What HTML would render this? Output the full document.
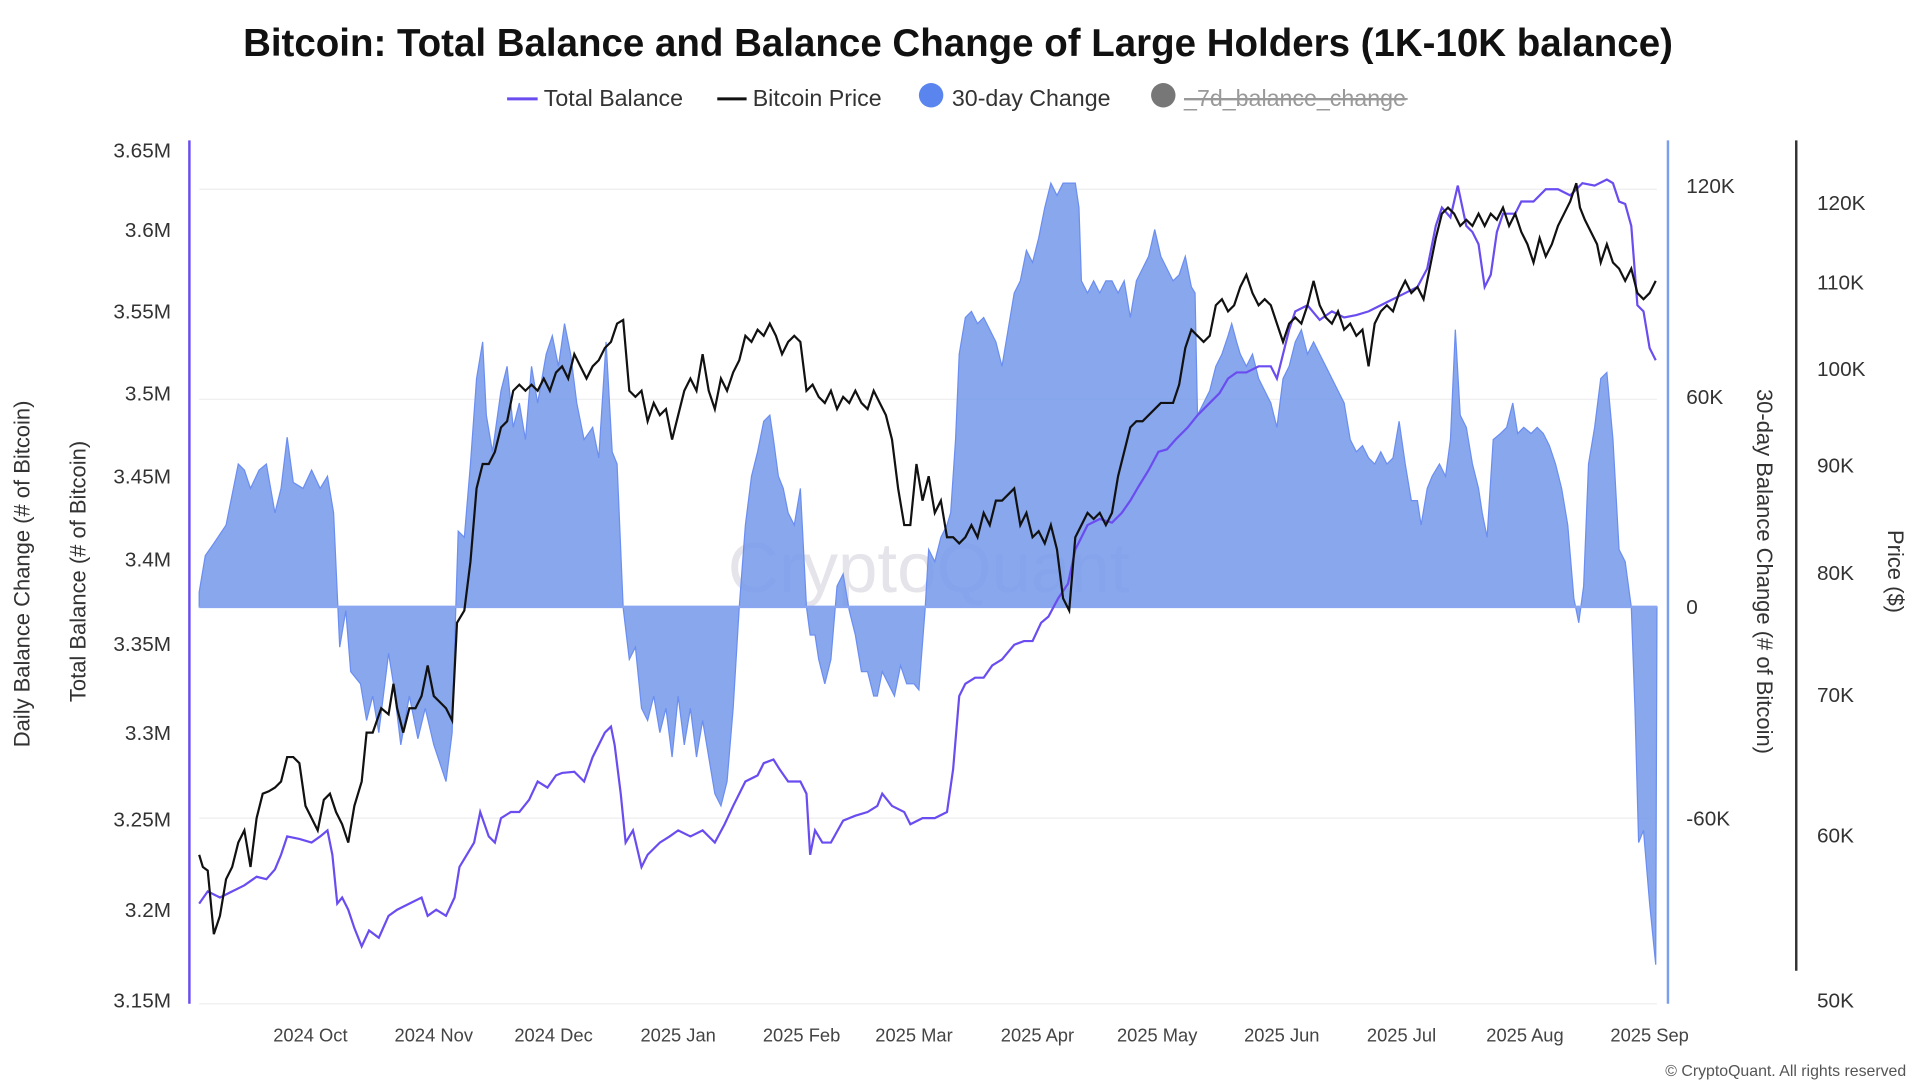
<!DOCTYPE html>
<html><head><meta charset="utf-8"><style>
html,body{margin:0;padding:0;background:#fff;}
svg{display:block;font-family:"Liberation Sans",sans-serif;}
</style></head><body>
<svg id="c" width="1916" height="1088" viewBox="0 0 1568 891" preserveAspectRatio="none" xmlns="http://www.w3.org/2000/svg">
<text x="784" y="46" text-anchor="middle" font-size="31.5" font-weight="bold" fill="#111">Bitcoin: Total Balance and Balance Change of Large Holders (1K-10K balance)</text>
<g font-size="19" fill="#333">
<line x1="415" y1="81" x2="440" y2="81" stroke="#6a4cf0" stroke-width="2.5"/><text x="445" y="87">Total Balance</text>
<line x1="587" y1="81" x2="611" y2="81" stroke="#111" stroke-width="2.5"/><text x="616" y="87">Bitcoin Price</text>
<circle cx="762" cy="78" r="10" fill="#5b85ee"/><text x="779" y="87">30-day Change</text>
<circle cx="952" cy="78" r="10" fill="#777"/><text x="969" y="87" fill="#999" text-decoration="line-through">_7d_balance_change</text>
<line x1="969" y1="81" x2="1152" y2="81" stroke="#999" stroke-width="1.5"/>
</g>
<g stroke="#eee" stroke-width="1">
<line x1="163" y1="155" x2="1356" y2="155"/><line x1="163" y1="327" x2="1356" y2="327"/>
<line x1="163" y1="670" x2="1356" y2="670"/><line x1="163" y1="822" x2="1356" y2="822"/>
</g>
<text x="760" y="485" text-anchor="middle" font-size="58" fill="#e4e4ea">CryptoQuant</text>
<path id="area" fill="rgb(120,155,235)" fill-opacity="0.88" stroke="#6b8ef0" stroke-width="1"/>
<line x1="163" y1="497" x2="1356" y2="497" stroke="#8aa6f0" stroke-width="2"/>
<path id="bal" fill="none" stroke="#6a4cf0" stroke-width="1.8"/>
<path id="px" fill="none" stroke="#111" stroke-width="1.8"/>
<line x1="155" y1="115" x2="155" y2="822" stroke="#6a4cf0" stroke-width="2"/>
<line x1="1365" y1="115" x2="1365" y2="822" stroke="#7c9ef0" stroke-width="2"/>
<line x1="1470" y1="115" x2="1470" y2="795" stroke="#333" stroke-width="2"/>
<g font-size="17" fill="#333" text-anchor="end">
<text x="140" y="129">3.65M</text><text x="140" y="194">3.6M</text><text x="140" y="261">3.55M</text><text x="140" y="328">3.5M</text><text x="140" y="396">3.45M</text><text x="140" y="464">3.4M</text><text x="140" y="533">3.35M</text><text x="140" y="606">3.3M</text><text x="140" y="677">3.25M</text><text x="140" y="751">3.2M</text><text x="140" y="825">3.15M</text>
</g>
<g font-size="17" fill="#333">
<text x="1380" y="158">120K</text><text x="1380" y="331">60K</text><text x="1380" y="503">0</text><text x="1380" y="676">-60K</text>
<text x="1487" y="172">120K</text><text x="1487" y="237">110K</text><text x="1487" y="308">100K</text><text x="1487" y="387">90K</text><text x="1487" y="475">80K</text><text x="1487" y="575">70K</text><text x="1487" y="690">60K</text><text x="1487" y="825">50K</text>
</g>
<g font-size="15" fill="#444" text-anchor="middle">
<text x="254" y="853">2024 Oct</text><text x="355" y="853">2024 Nov</text><text x="453" y="853">2024 Dec</text><text x="555" y="853">2025 Jan</text><text x="656" y="853">2025 Feb</text><text x="748" y="853">2025 Mar</text><text x="849" y="853">2025 Apr</text><text x="947" y="853">2025 May</text><text x="1049" y="853">2025 Jun</text><text x="1147" y="853">2025 Jul</text><text x="1248" y="853">2025 Aug</text><text x="1350" y="853">2025 Sep</text>
</g>
<g font-size="18" fill="#333" text-anchor="middle">
<text transform="translate(24,470) rotate(-90)">Daily Balance Change (# of Bitcoin)</text>
<text transform="translate(70,468) rotate(-90)">Total Balance (# of Bitcoin)</text>
<text transform="translate(1438,468) rotate(90)">30-day Balance Change (# of Bitcoin)</text>
<text transform="translate(1545,468) rotate(90)">Price ($)</text>
</g>
<text x="1560" y="881" text-anchor="end" font-size="13" fill="#555">© CryptoQuant. All rights reserved</text>
</svg>
<script>
function P(a){var s="";for(var i=0;i<a.length;i+=2)s+=(i?"L":"M")+a[i]+" "+a[i+1];return s;}
var A=[163,485,168,455,175,445,185,430,195,380,200,385,205,400,212,385,218,380,225,420,230,400,235,358,240,395,248,400,255,385,262,400,268,390,273,420,278,530,283,500,287,550,295,560,300,590,305,570,310,600,318,535,322,560,328,610,335,570,342,605,348,580,355,610,360,625,365,640,370,600,373,498,375,435,380,440,385,380,390,310,395,280,398,340,403,370,410,320,415,300,420,350,425,330,430,360,435,300,440,330,447,290,452,275,457,300,462,265,467,290,472,330,478,360,485,350,490,375,496,280,501,370,505,380,510,498,515,540,520,530,525,580,530,590,535,570,540,600,545,580,550,620,555,570,560,610,565,580,570,620,575,590,580,620,585,650,590,660,595,640,600,580,605,497,610,430,615,390,620,370,625,345,630,340,633,360,637,390,641,400,645,420,650,430,655,400,660,497,663,520,667,520,670,540,675,560,680,540,685,480,690,470,695,500,700,520,705,550,710,550,715,570,718,570,722,550,727,560,732,570,737,545,742,560,748,560,752,565,757,500,760,450,765,460,770,440,775,430,778,420,782,360,785,290,790,260,795,255,800,265,805,260,810,270,815,280,820,300,825,270,830,240,835,230,840,205,845,215,850,195,855,170,860,150,865,160,870,150,875,150,880,150,883,170,885,230,890,240,895,230,900,240,905,230,910,230,915,240,920,230,925,260,930,230,935,220,940,210,945,188,950,210,955,220,960,230,965,225,970,210,975,235,978,240,980,340,985,330,990,320,995,300,1000,290,1005,275,1008,265,1012,280,1015,290,1020,300,1025,290,1030,310,1035,320,1040,330,1045,350,1050,310,1055,300,1060,280,1065,270,1070,290,1075,280,1080,290,1085,300,1090,310,1095,320,1100,330,1105,360,1110,370,1115,365,1120,375,1125,380,1130,370,1135,380,1140,375,1145,345,1150,380,1155,410,1160,410,1163,430,1168,400,1172,390,1178,380,1183,390,1187,360,1191,270,1195,340,1200,350,1205,380,1210,400,1213,420,1217,440,1222,360,1228,355,1233,350,1238,330,1242,355,1247,350,1253,355,1258,350,1263,355,1268,365,1273,380,1278,400,1283,430,1288,490,1292,510,1296,480,1300,380,1305,350,1310,310,1315,305,1320,360,1325,450,1330,460,1335,497,1338,580,1341,690,1345,680,1350,740,1355,790,1356,497];
document.getElementById("area").setAttribute("d",P([163,497].concat(A))+"Z");
var B=[163,740,170,730,180,735,190,730,200,725,210,718,218,720,225,712,230,700,235,685,245,687,255,690,262,685,268,680,272,700,276,740,280,735,285,745,290,760,296,775,302,762,310,768,318,750,325,745,335,740,345,735,350,750,357,745,365,750,372,735,376,710,382,700,388,690,393,665,400,685,405,690,410,670,418,665,425,665,433,655,440,640,448,645,455,635,460,633,470,632,478,640,485,620,490,610,495,600,500,595,503,610,508,650,512,690,518,680,525,710,530,700,540,690,548,685,555,680,565,685,575,680,585,690,593,675,600,660,610,640,620,635,625,625,633,622,638,630,645,640,655,640,660,650,663,700,667,680,673,690,680,690,690,672,700,668,710,665,718,660,722,650,730,660,740,665,745,675,755,670,765,670,775,665,780,630,785,570,790,560,798,555,805,555,812,545,820,540,830,528,838,525,845,525,852,510,858,505,866,490,874,478,880,450,890,430,900,425,910,428,918,420,925,410,932,398,940,385,948,370,955,368,962,360,972,350,980,340,990,330,998,322,1005,310,1012,305,1020,305,1030,300,1040,300,1045,310,1050,290,1055,270,1060,255,1070,250,1080,262,1090,255,1100,260,1110,258,1120,255,1130,250,1140,245,1150,240,1160,235,1168,220,1175,185,1180,170,1187,178,1193,152,1200,185,1205,190,1210,200,1215,235,1220,225,1225,190,1230,175,1240,175,1245,165,1255,165,1265,155,1275,155,1285,160,1295,150,1305,152,1315,147,1320,150,1325,165,1330,167,1335,185,1340,250,1345,255,1350,285,1355,295];
document.getElementById("bal").setAttribute("d",P(B));
var C=[163,700,166,710,170,713,175,765,180,750,185,720,190,710,195,690,200,680,205,710,210,670,215,650,220,648,225,645,230,640,235,620,240,620,245,625,250,660,255,670,260,680,265,655,270,650,275,665,280,675,285,690,290,660,296,640,300,600,305,600,312,580,318,585,322,560,325,580,330,600,335,580,340,580,345,570,350,545,355,570,360,575,365,580,370,590,374,510,380,500,385,460,390,400,395,380,400,380,405,370,410,350,415,345,420,320,425,315,430,320,435,315,440,320,445,310,450,320,455,305,460,300,465,310,470,290,475,300,480,310,485,300,490,295,495,285,500,280,505,265,510,262,515,320,520,325,525,320,530,345,535,330,540,340,545,335,550,360,555,340,560,320,565,310,570,320,575,290,580,320,585,335,590,310,595,320,600,305,605,295,610,275,615,280,620,270,625,275,630,265,635,275,640,290,645,280,650,275,655,280,660,320,665,315,670,325,675,330,680,320,685,335,690,325,695,330,700,320,705,330,710,335,715,320,720,330,725,340,730,360,735,400,740,430,745,430,750,380,755,410,760,390,765,420,770,410,775,440,780,440,785,445,790,440,795,430,800,440,805,420,810,430,815,410,820,410,825,405,830,400,835,430,840,420,845,440,850,435,855,445,860,430,865,450,870,490,875,500,880,440,885,430,890,420,895,425,900,420,905,430,910,420,915,390,920,370,925,350,930,345,935,345,940,340,945,335,950,330,955,330,960,330,965,315,970,285,975,270,980,275,985,280,990,275,995,250,1000,245,1005,255,1010,250,1015,235,1020,225,1025,240,1030,250,1035,245,1040,250,1045,265,1050,280,1055,265,1060,260,1065,265,1070,250,1075,230,1080,250,1085,260,1090,265,1095,255,1100,270,1105,265,1110,275,1115,270,1120,300,1125,265,1130,255,1135,250,1140,255,1145,240,1150,230,1155,240,1160,235,1165,245,1170,220,1175,195,1180,175,1185,170,1190,175,1195,185,1200,180,1205,185,1210,175,1215,185,1220,175,1225,180,1230,170,1235,185,1240,175,1245,190,1250,200,1255,215,1260,195,1265,210,1270,200,1275,185,1280,175,1285,165,1290,150,1293,170,1297,180,1302,190,1307,200,1310,215,1315,200,1320,215,1325,220,1330,230,1335,220,1340,240,1345,245,1350,240,1355,230];
document.getElementById("px").setAttribute("d",P(C));
</script>
</body></html>
